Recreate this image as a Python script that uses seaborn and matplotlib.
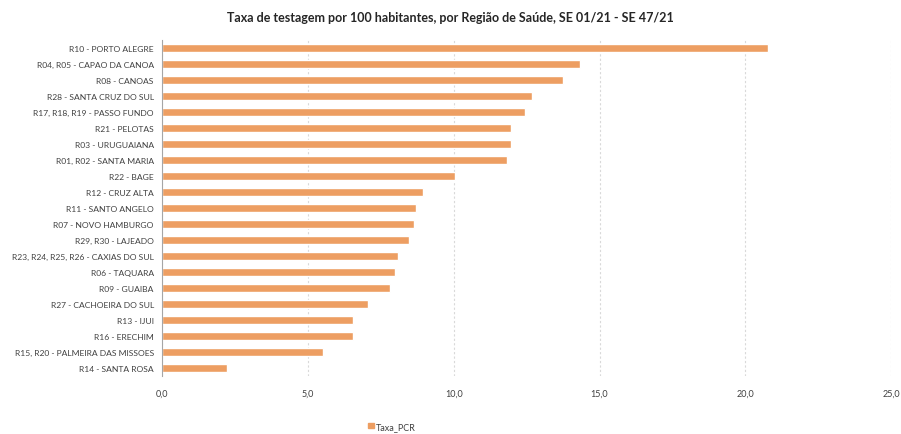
import matplotlib
matplotlib.use('Agg')
import pandas as pd
import seaborn as sns
import matplotlib.pyplot as plt
from matplotlib.patches import Patch

# Data
regioes = [
    'R10 - PORTO ALEGRE', 'R04, R05 - CAPAO DA CANOA', 'R08 - CANOAS',
    'R28 - SANTA CRUZ DO SUL', 'R17, R18, R19 - PASSO FUNDO', 'R21 - PELOTAS',
    'R03 - URUGUAIANA', 'R01, R02 - SANTA MARIA', 'R22 - BAGE',
    'R12 - CRUZ ALTA', 'R11 - SANTO ANGELO', 'R07 - NOVO HAMBURGO',
    'R29, R30 - LAJEADO', 'R23, R24, R25, R26 - CAXIAS DO SUL', 'R06 - TAQUARA',
    'R09 - GUAIBA', 'R27 - CACHOEIRA DO SUL', 'R13 - IJUI', 'R16 - ERECHIM',
    'R15, R20 - PALMEIRA DAS MISSOES', 'R14 - SANTA ROSA',
]
taxa_pcr = [20.77, 14.32, 13.75, 12.69, 12.45, 11.95, 11.95, 11.82, 10.04,
            8.94, 8.69, 8.62, 8.47, 8.09, 8.00, 7.82, 7.06, 6.53, 6.53, 5.53, 2.21]
x_ticks = [0, 5, 10, 15, 20, 25]
x_labels = ['0,0', '5,0', '10,0', '15,0', '20,0', '25,0']

df = pd.DataFrame({'regiao': regioes, 'Taxa_PCR': taxa_pcr})

sns.set_theme(style='white')
plt.rcParams['font.family'] = ['Lato', 'DejaVu Sans']
cor = '#ED9E62'
texto = '#404040'

fig = plt.figure(figsize=(9.01, 4.35), dpi=100)
ax = fig.add_axes([0.180, 0.1333, 0.809, 0.7724])

sns.barplot(data=df, x='Taxa_PCR', y='regiao', color=cor, width=0.45,
            saturation=1, ax=ax)

ax.set_xlim(0, 25)
ax.set_xticks(x_ticks)
ax.set_xticklabels(x_labels, fontsize=6.5, color=texto)
ax.tick_params(axis='y', labelsize=6.1, labelcolor=texto, length=0, pad=6)
ax.tick_params(axis='x', length=0, pad=9)
ax.set_xlabel('')
ax.set_ylabel('')

ax.grid(axis='x', color='#D9D9D9', linestyle=(0, (2, 2)), linewidth=0.8)
ax.set_axisbelow(True)
for side in ['top', 'right', 'bottom']:
    ax.spines[side].set_visible(False)
ax.spines['left'].set_color('#A6A6A6')
ax.spines['left'].set_linewidth(0.8)

fig.text(0.5, 0.958, 'Taxa de testagem por 100 habitantes, por Região de Saúde, SE 01/21 - SE 47/21',
         ha='center', va='center', fontsize=9, fontweight='bold', color='#262626')

fig.legend(handles=[Patch(color=cor, label='Taxa_PCR')], loc='center',
           bbox_to_anchor=(0.435, 0.018), frameon=False, fontsize=6.5,
           handlelength=0.6, handleheight=0.6, handletextpad=0.2,
           labelcolor=texto)

fig.savefig('out.png', dpi=100)
